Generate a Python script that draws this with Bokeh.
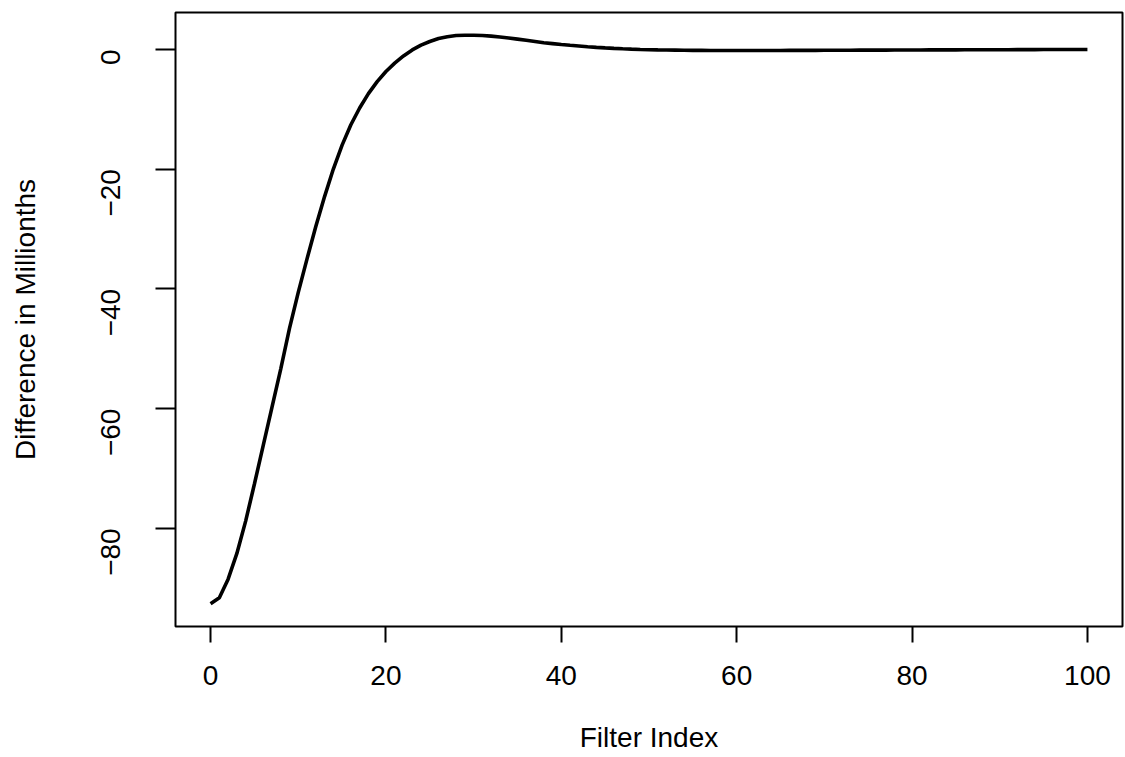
import math
from bokeh.plotting import figure
from bokeh.models import Range1d, FixedTicker, ColumnDataSource
from bokeh.embed import file_html
from bokeh.resources import INLINE

# ---- data ----
filter_index = list(range(101))
difference = [
    -92.6, -91.6, -88.5, -84.2, -78.8, -72.6, -66.2, -59.8, -53.4, -46.6,
    -40.6, -35.0, -29.6, -24.6, -20.0, -16.0, -12.6, -9.8, -7.4, -5.4,
    -3.7, -2.3, -1.1, -0.1, 0.7, 1.3, 1.8, 2.1, 2.3, 2.35,
    2.35, 2.3, 2.2, 2.05, 1.9, 1.7, 1.5, 1.3, 1.1, 0.95,
    0.8, 0.67, 0.55, 0.43, 0.33, 0.24, 0.16, 0.09, 0.03, -0.02,
    -0.06, -0.1, -0.12, -0.14, -0.16, -0.17, -0.18, -0.19, -0.19, -0.2,
    -0.2, -0.2, -0.2, -0.19, -0.19, -0.19, -0.18, -0.18, -0.17, -0.17,
    -0.16, -0.16, -0.15, -0.15, -0.14, -0.14, -0.13, -0.13, -0.12, -0.12,
    -0.11, -0.11, -0.10, -0.10, -0.09, -0.09, -0.08, -0.08, -0.07, -0.07,
    -0.06, -0.06, -0.05, -0.05, -0.05, -0.04, -0.04, -0.04, -0.03, -0.03,
    -0.03,
]
x_ticks = [0, 20, 40, 60, 80, 100]
x_tick_labels = ["0", "20", "40", "60", "80", "100"]
y_ticks = [-80, -60, -40, -20, 0]
y_tick_labels = ["\u221280", "\u221260", "\u221240", "\u221220", "0"]
x_title = "Filter Index"
y_title = "Difference in Millionths"

FONT = "Liberation Sans"

src = ColumnDataSource(dict(x=filter_index, y=difference))

p = figure(
    width=1125, height=757,
    output_backend="svg", toolbar_location=None,
    x_range=Range1d(-4, 104), y_range=Range1d(-96.4, 6.15),
    min_border_left=175, min_border_top=12, min_border_right=3, min_border_bottom=131,
)
p.line("x", "y", source=src, line_width=3.6, line_color="black")

p.grid.visible = False
p.outline_line_color = "black"
p.outline_line_width = 2
p.background_fill_color = "white"
p.border_fill_color = "white"

p.xaxis.ticker = FixedTicker(ticks=x_ticks)
p.xaxis.major_label_overrides = dict(zip(x_ticks, x_tick_labels))
p.yaxis.ticker = FixedTicker(ticks=y_ticks)
p.yaxis.major_label_overrides = dict(zip(y_ticks, y_tick_labels))
p.yaxis.major_label_orientation = math.pi / 2

for ax in (p.xaxis, p.yaxis):
    ax.axis_line_color = None
    ax.major_tick_line_color = "black"
    ax.major_tick_line_width = 2
    ax.minor_tick_line_color = None
    ax.major_tick_in = 0
    ax.major_label_text_font = FONT
    ax.major_label_text_font_size = "28px"
    ax.major_label_text_color = "black"
    ax.axis_label_text_font = FONT
    ax.axis_label_text_font_size = "28px"
    ax.axis_label_text_font_style = "normal"
    ax.axis_label_text_color = "black"

p.xaxis.axis_label = x_title
p.yaxis.axis_label = y_title
p.xaxis.major_tick_out = 16
p.yaxis.major_tick_out = 20
p.xaxis.major_label_standoff = 23
p.xaxis.axis_label_standoff = 34
p.yaxis.major_label_standoff = 45
p.yaxis.axis_label_standoff = 48

open("out.html", "w").write(file_html(p, INLINE))
